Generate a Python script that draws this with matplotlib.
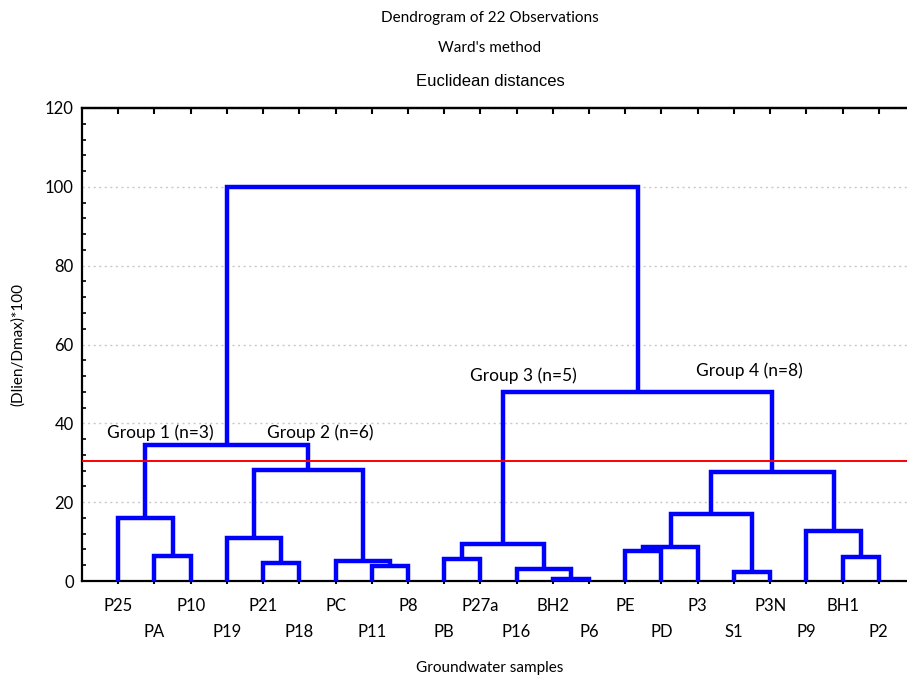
import matplotlib
matplotlib.use("Agg")
import matplotlib.pyplot as plt
from matplotlib.ticker import MultipleLocator

leaves = ["P25", "PA", "P10", "P19", "P21", "P18", "PC", "P11", "P8", "PB", "P27a",
          "P16", "BH2", "P6", "PE", "PD", "P3", "S1", "P3N", "P9", "BH1", "P2"]

# merges: node ids 0..21 are leaves, each merge creates node 22, 23, ...
merge_a = [1, 0, 4, 3, 7, 6, 25, 23, 9, 12, 11, 30, 14, 34, 17, 35, 20, 19, 37, 33, 29]
merge_b = [2, 22, 5, 24, 8, 26, 27, 28, 10, 13, 31, 32, 15, 16, 18, 36, 21, 38, 39, 40, 41]
merge_h = [6.4, 15.9, 4.65, 10.8, 3.9, 5.1, 28.2, 34.5, 5.6, 0.6, 3.1, 9.3,
           7.7, 8.7, 2.4, 17.0, 6.2, 12.7, 27.7, 47.9, 100.0]

cut_level = 30.5
group_labels = ["Group 1 (n=3)", "Group 2 (n=6)", "Group 3 (n=5)", "Group 4 (n=8)"]
group_x = [2.15, 6.57, 12.18, 18.44]
group_y = [37.6, 37.6, 52.2, 53.3]

calibri = ["Lato", "DejaVu Sans"]

fig = plt.figure(figsize=(9.07, 6.8), dpi=100)
ax = fig.add_axes([82 / 907, 99 / 680, 833 / 907, 473 / 680])

xpos = {i: i + 1 for i in range(len(leaves))}
hpos = {i: 0.0 for i in range(len(leaves))}
for k, (a, b, h) in enumerate(zip(merge_a, merge_b, merge_h)):
    node = len(leaves) + k
    xa, xb = xpos[a], xpos[b]
    ax.plot([xa, xa, xb, xb], [hpos[a], h, h, hpos[b]], color="#0000ff",
            lw=3.2, solid_joinstyle="miter", solid_capstyle="butt", zorder=3)
    xpos[node] = (xa + xb) / 2
    hpos[node] = h

ax.axhline(cut_level, color="#ff0000", lw=1.4, zorder=4)

for lab, x, y in zip(group_labels, group_x, group_y):
    ax.text(x, y, lab, ha="center", va="center", fontsize=12.5, family=calibri)

ax.set_xlim(0, 23)
ax.set_ylim(0, 120)
ax.yaxis.set_major_locator(MultipleLocator(20))
ax.yaxis.set_minor_locator(MultipleLocator(4))
ax.set_xticks(range(1, len(leaves) + 1))
ax.set_xticklabels([])
ax.tick_params(axis="x", which="major", direction="inout", length=5, width=1.5,
               top=False, bottom=True)
ax.tick_params(axis="y", which="major", direction="in", length=0, labelsize=12, pad=6)
ax.tick_params(axis="y", which="minor", direction="in", length=3, width=1.2)
for t in ax.get_yticklabels():
    t.set_family(calibri)

top = ax.secondary_xaxis("top")
top.set_xticks(range(1, len(leaves) + 1))
top.set_xticklabels([])
top.tick_params(direction="in", length=4, width=1.5)
top.spines["top"].set_linewidth(1.6)

for i, lab in enumerate(leaves):
    yy = -0.053 if i % 2 == 0 else -0.108
    ax.text(i + 1, yy, lab, transform=ax.get_xaxis_transform(), ha="center",
            va="center", fontsize=12, family=calibri)

ax.grid(axis="y", which="major", color="#c8c8c8", linestyle=(0, (1.5, 2.5)), lw=1)
ax.set_axisbelow(True)
for s in ["left", "top", "bottom", "right"]:
    ax.spines[s].set_linewidth(1.6)

fig.text(18 / 907, 1 - 345 / 680, "(Dlien/Dmax)*100", rotation=90, ha="center",
         va="center", fontsize=11, family=calibri)
fig.text(490 / 907, 1 - 668 / 680, "Groundwater samples", ha="center", va="center",
         fontsize=11, family=calibri)
fig.text(490 / 907, 1 - 18 / 680, "Dendrogram of 22 Observations", ha="center",
         va="center", fontsize=11, family=calibri)
fig.text(490 / 907, 1 - 48 / 680, "Ward's method", ha="center", va="center",
         fontsize=11, family=calibri)
fig.text(490 / 907, 1 - 82 / 680, "Euclidean distances", ha="center", va="center",
         fontsize=12, family=["Liberation Sans", "DejaVu Sans"])

fig.savefig("out.png", dpi=100)
